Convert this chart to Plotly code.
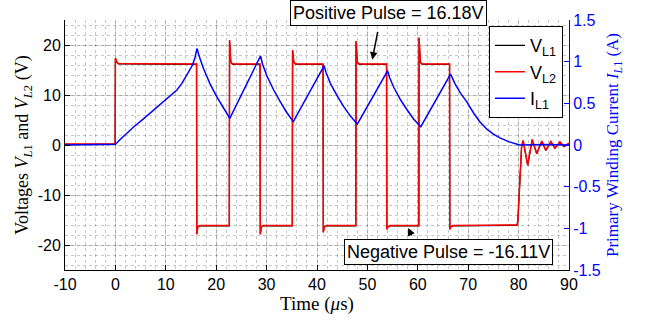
import plotly.graph_objects as go

# ---- data ----
t_v = [-10, -0.05, 0.0, 0.3, 0.6, 16.1, 16.15, 16.35, 16.8, 22.6, 22.65, 22.9, 23.3, 28.7, 28.75, 28.95, 29.4,
       35.1, 35.15, 35.4, 35.8, 41.2, 41.25, 41.45, 41.9, 47.7, 47.75, 48.0, 48.4, 53.8, 53.85, 54.05, 54.5,
       60.2, 60.25, 60.5, 60.9, 66.3, 66.35, 66.55, 67.0, 79.5, 79.7, 79.85, 80.6, 80.9, 81.8, 82.7, 83.6,
       84.6, 85.4, 86.4, 87.2, 88.2, 89.0, 90.0]
v_l2 = [0.2, 0.2, 17.4, 16.6, 16.3, 16.2, -17.9, -16.4, -16.1, -16.1, 21.0, 16.6, 16.2, 16.2, -17.9, -16.4, -16.1,
        -16.1, 19.0, 16.6, 16.2, 16.2, -17.5, -16.4, -16.1, -16.1, 20.8, 16.6, 16.2, 16.2, -16.9, -16.4, -16.1,
        -16.1, 21.5, 16.6, 16.2, 16.2, -16.9, -16.4, -16.1, -16.1, -16.0, -15.2, -0.2, 0.9, -4.0, 1.1, -1.7,
        0.8, -1.05, 0.7, -0.6, 0.6, -0.3, 0.35]
v_l1 = [0.15, 0.15, 17.3, 16.5, 16.22, 16.14, -17.8, -16.35, -16.16, -16.16, 20.9, 16.5, 16.14, 16.14, -17.8, -16.35, -16.16,
        -16.16, 18.9, 16.5, 16.14, 16.14, -17.4, -16.35, -16.16, -16.16, 20.7, 16.5, 16.14, 16.14, -16.8, -16.35, -16.16,
        -16.16, 21.4, 16.5, 16.14, 16.14, -16.8, -16.35, -16.16, -16.16, -16.05, -15.25, -0.25, 0.85, -4.05, 1.05, -1.75,
        0.75, -1.1, 0.65, -0.65, 0.55, -0.35, 0.3]

t_i = [-10, 0.0, 1.0, 2.0, 3.5, 5.5, 7.2, 8.85, 10.5, 12.2, 13.2, 14.1, 14.8, 15.3, 15.8, 16.2, 16.6, 17.45, 18.8, 20.1, 21.4, 22.7,
       28.8, 29.2, 30.05, 31.4, 32.7, 34.0, 35.3,
       41.4, 41.8, 42.65, 44.0, 45.3, 46.6, 48.0,
       54.0, 54.4, 55.25, 56.6, 57.9, 59.2, 60.6,
       66.5, 67.5, 68.5, 69.7, 71.0, 72.3, 73.7, 75.0, 76.3, 78.0, 80.2, 85.0, 90.0]
i_l1 = [0.0, 0.01, 0.07, 0.13, 0.21, 0.31, 0.40, 0.48, 0.57, 0.66, 0.74, 0.83, 0.90, 0.96, 1.05, 1.16, 1.07, 0.92, 0.73, 0.58, 0.45, 0.32,
        1.07, 0.97, 0.83, 0.66, 0.52, 0.39, 0.28,
        0.95, 0.87, 0.74, 0.59, 0.46, 0.35, 0.25,
        0.89, 0.81, 0.69, 0.54, 0.42, 0.31, 0.22,
        0.85, 0.72, 0.62, 0.52, 0.39, 0.28, 0.19, 0.13, 0.086, 0.04, 0.0, 0.005, 0.0]

x_ticks = [-10, 0, 10, 20, 30, 40, 50, 60, 70, 80, 90]
y_ticks = [-20, -10, 0, 10, 20]
y2_ticks = [-1.5, -1, -0.5, 0, 0.5, 1, 1.5]
y2_labels = ["-1.5", "-1", "-0.5", "0", "0.5", "1", "1.5"]

pos_text = "Positive Pulse = 16.18V"
neg_text = "Negative Pulse = -16.11V"

SANS = "Liberation Sans"
SERIF = "Liberation Serif"

fig = go.Figure()
fig.add_trace(go.Scatter(x=t_v, y=v_l1, mode="lines", name="V<sub>L1</sub>",
                         line=dict(color="black", width=1.2)))
fig.add_trace(go.Scatter(x=t_v, y=v_l2, mode="lines", name="V<sub>L2</sub>",
                         line=dict(color="#ff0000", width=1.5)))
fig.add_trace(go.Scatter(x=t_i, y=i_l1, mode="lines", name="I<sub>L1</sub>", yaxis="y2",
                         line=dict(color="#0000ff", width=1.5)))

grid_major = "rgba(0,0,0,0.15)"
grid_minor = "rgba(0,0,0,0.22)"

fig.update_layout(
    width=650, height=324,
    margin=dict(l=65, r=81, t=16, b=54),
    paper_bgcolor="white", plot_bgcolor="white",
    font=dict(family=SANS, size=16, color="black"),
    showlegend=True,
    legend=dict(x=0.988, y=0.975, xanchor="right", yanchor="top",
                bgcolor="white", bordercolor="black", borderwidth=1,
                font=dict(family=SANS, size=18), tracegroupgap=0,
                itemwidth=30),
    xaxis=dict(range=[-10, 90], tickvals=x_ticks, ticktext=[str(v) for v in x_ticks],
               showline=True, linecolor="black", linewidth=1, mirror=False,
               ticks="inside", ticklen=5, tickcolor="black",
               showgrid=True, gridcolor=grid_major, gridwidth=1,
               minor=dict(dtick=2, showgrid=True, gridcolor=grid_minor, griddash="dot", gridwidth=1),
               zeroline=False,
               title=dict(text="Time (<i>μ</i>s)", font=dict(family=SERIF, size=19), standoff=4),
               tickfont=dict(family=SANS, size=16)),
    yaxis=dict(range=[-25, 25], tickvals=y_ticks, ticktext=[str(v) for v in y_ticks],
               showline=True, linecolor="black", linewidth=1,
               ticks="inside", ticklen=5, tickcolor="black",
               showgrid=True, gridcolor=grid_major, gridwidth=1,
               minor=dict(dtick=2, showgrid=True, gridcolor=grid_minor, griddash="dot", gridwidth=1),
               zeroline=False,
               title=dict(text="Voltages <i>V</i><sub><i>L</i>1</sub> and <i>V</i><sub><i>L</i>2</sub> (V)",
                          font=dict(family=SERIF, size=18), standoff=4),
               tickfont=dict(family=SANS, size=16)),
    yaxis2=dict(range=[-1.5, 1.5], overlaying="y", side="right",
                tickvals=y2_ticks, ticktext=y2_labels,
                showline=True, linecolor="#0000ff", linewidth=1,
                ticks="inside", ticklen=5, tickcolor="#0000ff",
                showgrid=False, zeroline=False,
                tickfont=dict(family=SANS, size=16, color="#0000ff"),
                title=dict(text="Primary Winding Current <i>I</i><sub><i>L</i>1</sub> (A)",
                           font=dict(family=SERIF, size=17, color="#0000ff"), standoff=6)),
)

# annotation boxes (placed in paper coordinates: the top box sits above the plot area)
fig.add_annotation(x=0.641, y=1.027, xref="paper", yref="paper", xanchor="center", yanchor="middle",
                   text=pos_text, showarrow=False,
                   font=dict(family=SANS, size=18, color="black"),
                   bgcolor="white", bordercolor="black", borderwidth=1, borderpad=2)
fig.add_annotation(x=0.761, y=0.073, xref="paper", yref="paper", xanchor="center", yanchor="middle",
                   text=neg_text, showarrow=False,
                   font=dict(family=SANS, size=18, color="black"),
                   bgcolor="white", bordercolor="black", borderwidth=1, borderpad=2)
# arrows
fig.add_annotation(x=50.97, y=17.07, xref="x", yref="y", text="", showarrow=True,
                   ax=5.7, ay=-29.3, arrowhead=2, arrowsize=1, arrowwidth=1.5, arrowcolor="black")
fig.add_annotation(x=58.1, y=-16.6, xref="x", yref="y", text="", showarrow=True,
                   ax=4, ay=9, arrowhead=2, arrowsize=1, arrowwidth=1.5, arrowcolor="black")

fig.write_html("out.html")
